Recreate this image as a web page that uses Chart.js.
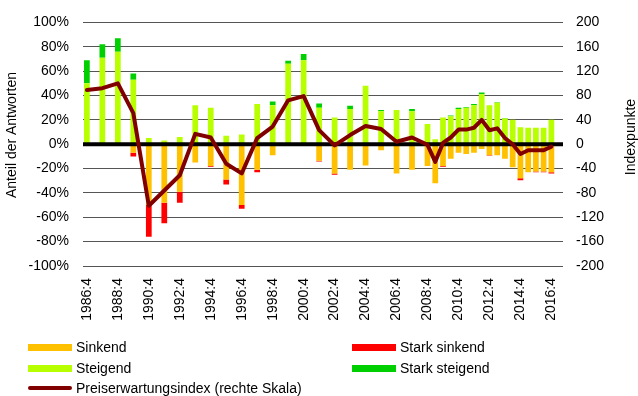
<!DOCTYPE html>
<html>
<head>
<meta charset="utf-8">
<script src="https://cdn.jsdelivr.net/npm/chart.js@4.4.0/dist/chart.umd.min.js"></script>
<style>
  body { margin: 0; background: #fff; }
  #wrap { position: relative; width: 638px; height: 396px; font-family: 'Liberation Sans', Arial, sans-serif; font-size: 14px; color: #000; }
  canvas { position: absolute; left: 0; top: 0; }
  .lg { position: absolute; display: flex; align-items: center; height: 16px; white-space: nowrap; }
  .lg i { display: inline-block; width: 44px; height: 7px; margin-right: 4px; }
  .lg i.ln { height: 4px; border-radius: 2px; }
</style>
</head>
<body>
<div id="wrap">
  <canvas id="chartPreise" width="638" height="396"></canvas>
  <div class="lg" style="left:28px;top:339px"><i style="background:#ffc000"></i>Sinkend</div>
  <div class="lg" style="left:352px;top:339px"><i style="background:#ff0000"></i>Stark sinkend</div>
  <div class="lg" style="left:28px;top:360px"><i style="background:#b8ff00"></i>Steigend</div>
  <div class="lg" style="left:352px;top:360px"><i style="background:#00d000"></i>Stark steigend</div>
  <div class="lg" style="left:28px;top:380px"><i class="ln" style="background:#800000"></i>Preiserwartungsindex (rechte Skala)</div>
</div>
<script>
// ── DATEN ─────────────────────────────────────────────────────
// bis 2008 jährlich (Q4), danach halbjährlich
const periods = [
  '1986:4','1987:4','1988:4','1989:4','1990:4','1991:4','1992:4','1993:4','1994:4','1995:4',
  '1996:4','1997:4','1998:4','1999:4','2000:4','2001:4','2002:4','2003:4','2004:4','2005:4',
  '2006:4','2007:4','2008:4',
  '2009:2','2009:4','2010:2','2010:4','2011:2','2011:4','2012:2','2012:4','2013:2','2013:4',
  '2014:2','2014:4','2015:2','2015:4','2016:2','2016:4'
];
const xTicks = ['1986:4','1988:4','1990:4','1992:4','1994:4','1996:4','1998:4','2000:4',
  '2002:4','2004:4','2006:4','2008:4','2010:4','2012:4','2014:4','2016:4'];

// Anteile in % (negativ = sinkende Erwartung)
const sinkend = [0, -1, 0, -7, -50, -48, -39, -15, -18, -29,
  -50, -21, -9, 0, 0, -13.5, -24, -21, -17.5, -5,
  -24, -21, -18,
  -32, -18, -12, -7, -8, -7, -4, -9, -9, -12,
  -19, -28, -23, -22.5, -22.5, -23];
const starkSinkend = [0, 0, 0, -3, -26, -17, -9, 0, -0.5, -4,
  -3, -2, 0, 0, 0, -0.8, -1, 0, 0, 0,
  0, 0, 0,
  0, -0.5, 0, 0, 0, 0, 0, -0.5, 0, 0,
  0, -1.5, 0, -0.5, -0.5, -1];
const steigend = [50, 71, 76, 53, 5, 3, 6, 32, 30, 7,
  8, 33, 32, 66, 69, 30, 22, 29, 48, 27,
  28, 27, 16.5,
  4, 22, 23, 29, 30, 32, 41, 32, 34, 21,
  20, 14, 13.5, 13.5, 13.5, 20];
const starkSteigend = [19, 11, 11, 5, 0, 0, 0, 0, 0, 0,
  0, 0, 3, 2.5, 5, 3.5, 0, 2.5, 0, 1,
  0, 2, 0,
  0, 0, 0.5, 1, 0.5, 1, 1.5, 0, 0.5, 0.5,
  0, 0, 0, 0, 0, 0];
// Indexpunkte (rechte Skala)
const preisIndex = [89, 92, 100, 51, -101, -76, -51, 17, 11, -32,
  -48, 10, 29, 72, 79, 23, -2, 15, 30, 25,
  4, 11, -1,
  -29, 2, 11, 24, 24, 27, 40, 23, 26, 10,
  0, -16, -10, -10, -10, -4];

// "1990:4" -> Jahre seit 1986:4
const toX = p => { const [y, q] = p.split(':').map(Number); return (y - 1986) + (q - 4) / 4; };
const pts = vals => periods.map((p, i) => ({ x: toX(p), y: vals[i] }));

const FONT = "'Liberation Sans', Arial, sans-serif";
Chart.defaults.font.family = FONT;
Chart.defaults.font.size = 14;
Chart.defaults.color = '#000';

// Nulllinie über den Balken, aber unter der Indexlinie; Achsentitel von unten nach oben
const extras = {
  id: 'extras',
  beforeDatasetDraw(chart, args) {
    if (args.meta.type !== 'line') return;
    const { ctx, chartArea } = chart;
    const y0 = chart.scales.y.getPixelForValue(0);
    ctx.save();
    ctx.strokeStyle = '#000';
    ctx.lineWidth = 4;
    ctx.beginPath();
    ctx.moveTo(chartArea.left, y0);
    ctx.lineTo(chartArea.right, y0);
    ctx.stroke();
    ctx.restore();
  },
  afterDraw(chart) {
    const ctx = chart.ctx;
    const title = (text, x, y) => {
      ctx.save();
      ctx.translate(x, y);
      ctx.rotate(-Math.PI / 2);
      ctx.font = '14px ' + FONT;
      ctx.fillStyle = '#000';
      ctx.textAlign = 'center';
      ctx.textBaseline = 'middle';
      ctx.fillText(text, 0, 0);
      ctx.restore();
    };
    title('Anteil der Antworten', 12, 135);
    title('Indexpunkte', 631, 137);
  }
};

const barDs = (label, vals, color) => ({
  type: 'bar', label, data: pts(vals), backgroundColor: color,
  yAxisID: 'y', order: 1, borderWidth: 0
});

new Chart(document.getElementById('chartPreise'), {
  type: 'bar',
  data: {
    datasets: [
      {
        type: 'line', label: 'Preiserwartungsindex (rechte Skala)', data: pts(preisIndex),
        yAxisID: 'y1', order: 0, borderColor: '#800000', borderWidth: 4,
        pointRadius: 0, tension: 0, borderJoinStyle: 'round', borderCapStyle: 'round'
      },
      barDs('Sinkend', sinkend, '#ffc000'),
      barDs('Stark sinkend', starkSinkend, '#ff0000'),
      barDs('Steigend', steigend, '#b8ff00'),
      barDs('Stark steigend', starkSteigend, '#00d000')
    ]
  },
  options: {
    responsive: false, animation: false,
    layout: { padding: { top: 19 } },
    plugins: { legend: { display: false }, tooltip: { enabled: false } },
    datasets: { bar: { categoryPercentage: 1, barPercentage: 0.74 } },
    scales: {
      x: {
        type: 'linear', stacked: true, min: -0.25, max: 30.75, offset: false,
        grid: { display: false, drawTicks: false }, border: { display: false },
        afterBuildTicks: s => { s.ticks = xTicks.map(t => ({ value: toX(t) })); },
        afterFit: s => { s.height = 130; },
        ticks: { autoSkip: false, minRotation: 90, maxRotation: 90, padding: 12,
                 callback: (v, i) => xTicks[i] }
      },
      y: {
        position: 'left', stacked: true, min: -100, max: 100,
        ticks: { stepSize: 20, padding: 14, callback: v => v + '%' },
        grid: { color: c => c.tick.value === 0 ? 'rgba(0,0,0,0)' : '#555', lineWidth: 1, drawTicks: false },
        border: { display: false },
        afterFit: s => { s.width = 83; }
      },
      y1: {
        position: 'right', min: -200, max: 200,
        ticks: { stepSize: 40, padding: 13 },
        grid: { display: false, drawTicks: false }, border: { display: false },
        afterFit: s => { s.width = 75; }
      }
    }
  },
  plugins: [extras]
});
</script>
</body>
</html>
